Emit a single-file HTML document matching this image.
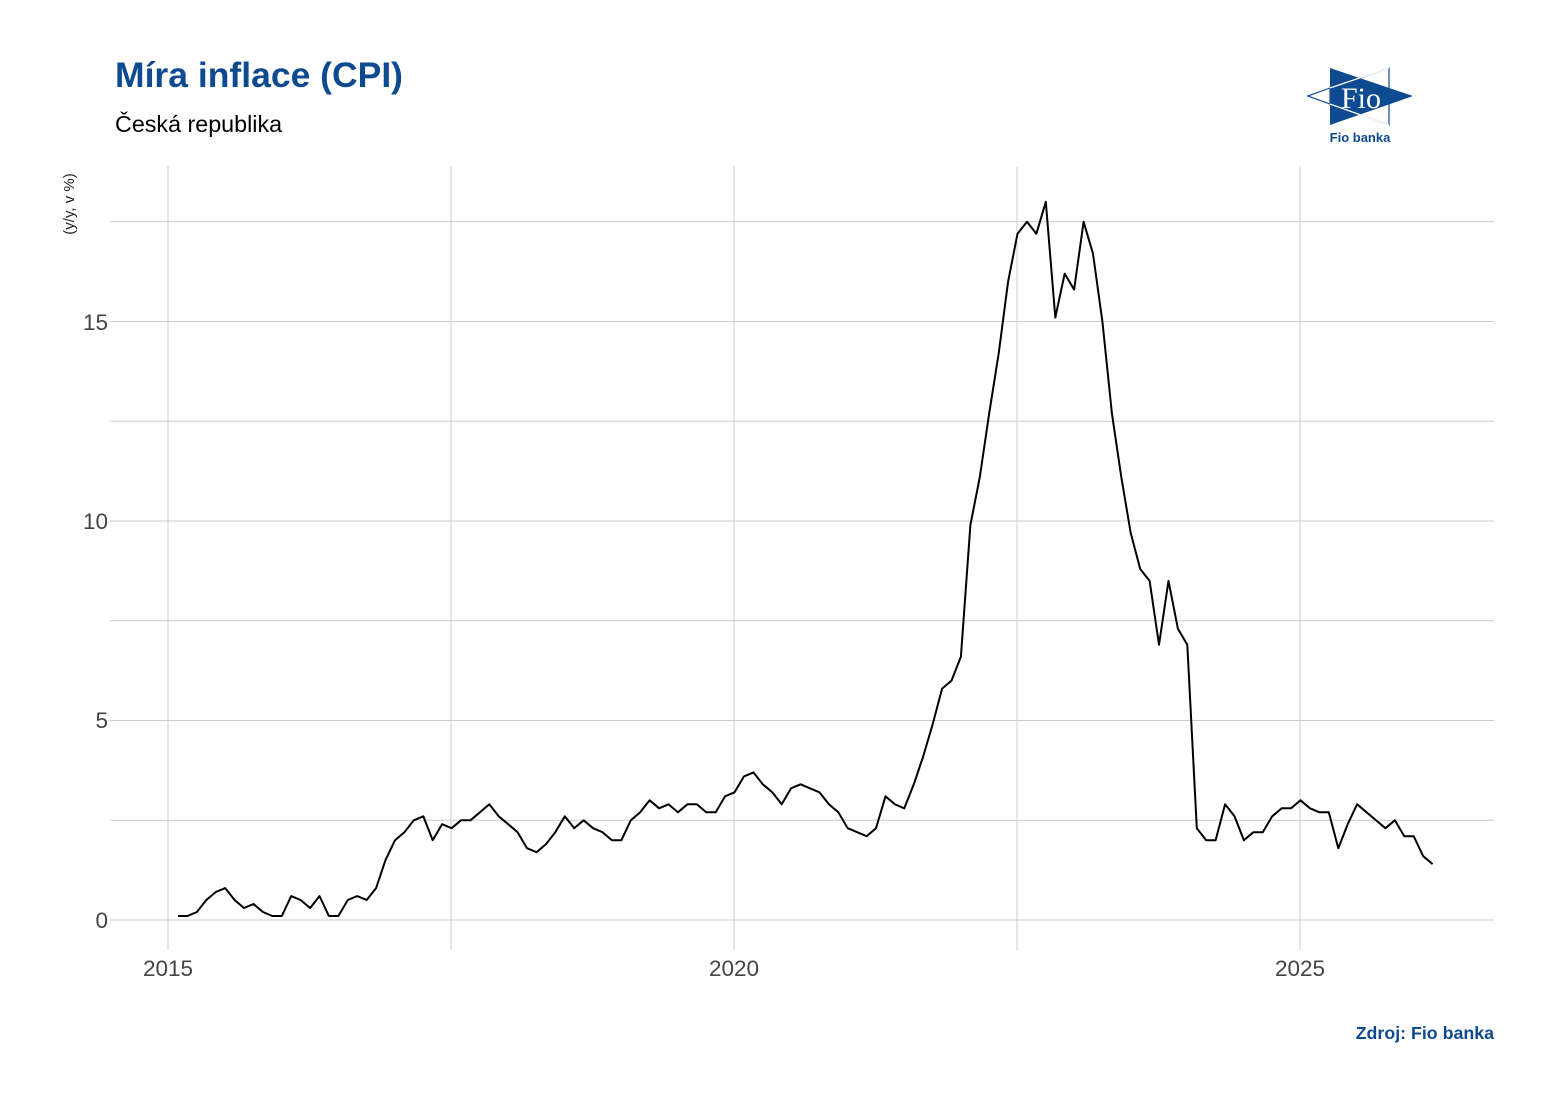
<!DOCTYPE html>
<html><head><meta charset="utf-8"><style>
body{margin:0;background:#fff;}
svg{display:block;font-family:"Liberation Sans",sans-serif;}
</style></head><body>
<svg id="s" width="1554" height="1102" xmlns="http://www.w3.org/2000/svg">
<rect width="1554" height="1102" fill="#fff"/>
<text x="115" y="87" font-size="35.5" font-weight="bold" fill="#0d4a8f">Míra inflace (CPI)</text>
<text x="115" y="132" font-size="23.3" fill="#000">Česká republika</text>
<text transform="translate(74,204) rotate(-90)" font-size="15" fill="#222" text-anchor="middle">(y/y, v %)</text>
<g id="grid" stroke="#cccccc" stroke-width="1"></g>
<g font-size="22.5" fill="#444" text-anchor="end">
<text x="108" y="928">0</text><text x="108" y="728">5</text><text x="108" y="529">10</text><text x="108" y="330">15</text>
</g>
<g font-size="22.5" fill="#444" text-anchor="middle">
<text x="168" y="976">2015</text><text x="734" y="976">2020</text><text x="1300" y="976">2025</text>
</g>
<polyline id="ln" fill="none" stroke="#000" stroke-width="2" stroke-linejoin="round"/>
<text x="1494" y="1039" font-size="17.8" font-weight="bold" fill="#0d4a8f" text-anchor="end">Zdroj: Fio banka</text>
<g>
<polygon points="1308,96 1389,68 1389,125" fill="none" stroke="#0d4a8f" stroke-width="1.2"/>
<polygon points="1330,68 1330,125 1413,96" fill="#0d4a8f"/>
<polygon points="1308,96 1330,88 1330,104" fill="#fff" stroke="#0d4a8f" stroke-width="1"/>
<polyline points="1330,88 1389,68" stroke="#fff" stroke-width="1.2"/>
<polyline points="1330,104 1389,125" stroke="#fff" stroke-width="1.2"/>
<text x="1361" y="108" font-family="Liberation Serif,serif" font-size="30" fill="#fff" text-anchor="middle">Fio</text>
<text x="1360" y="142" font-size="13" font-weight="bold" fill="#0d4a8f" text-anchor="middle">Fio banka</text>
</g>
</svg>
<script>
var g=document.getElementById('grid'),ns='http://www.w3.org/2000/svg';
function L(x1,y1,x2,y2){var l=document.createElementNS(ns,'line');l.setAttribute('x1',x1);l.setAttribute('y1',y1);l.setAttribute('x2',x2);l.setAttribute('y2',y2);g.appendChild(l);}
for(var v=0;v<=17.5;v+=2.5){var y=920-v*39.9;L(110,y,1494,y);}
for(var k=0;k<5;k++){var x=168+k*283;L(x,166,x,950);}
var d=[0.1,0.1,0.2,0.5,0.7,0.8,0.5,0.3,0.4,0.2,0.1,0.1,
0.6,0.5,0.3,0.6,0.1,0.1,0.5,0.6,0.5,0.8,1.5,2.0,
2.2,2.5,2.6,2.0,2.4,2.3,2.5,2.5,2.7,2.9,2.6,2.4,
2.2,1.8,1.7,1.9,2.2,2.6,2.3,2.5,2.3,2.2,2.0,2.0,
2.5,2.7,3.0,2.8,2.9,2.7,2.9,2.9,2.7,2.7,3.1,3.2,
3.6,3.7,3.4,3.2,2.9,3.3,3.4,3.3,3.2,2.9,2.7,2.3,
2.2,2.1,2.3,3.1,2.9,2.8,3.4,4.1,4.9,5.8,6.0,6.6,
9.9,11.1,12.7,14.2,16.0,17.2,17.5,17.2,18.0,15.1,16.2,15.8,
17.5,16.7,15.0,12.7,11.1,9.7,8.8,8.5,6.9,8.5,7.3,6.9,
2.3,2.0,2.0,2.9,2.6,2.0,2.2,2.2,2.6,2.8,2.8,3.0,
2.8,2.7,2.7,1.8,2.4,2.9,2.7,2.5,2.3,2.5,2.1,2.1,
1.6,1.4];
var p=d.map(function(v,i){return (178+i*9.433).toFixed(1)+','+(920-v*39.9).toFixed(1);}).join(' ');
document.getElementById('ln').setAttribute('points',p);
</script>
</body></html>
